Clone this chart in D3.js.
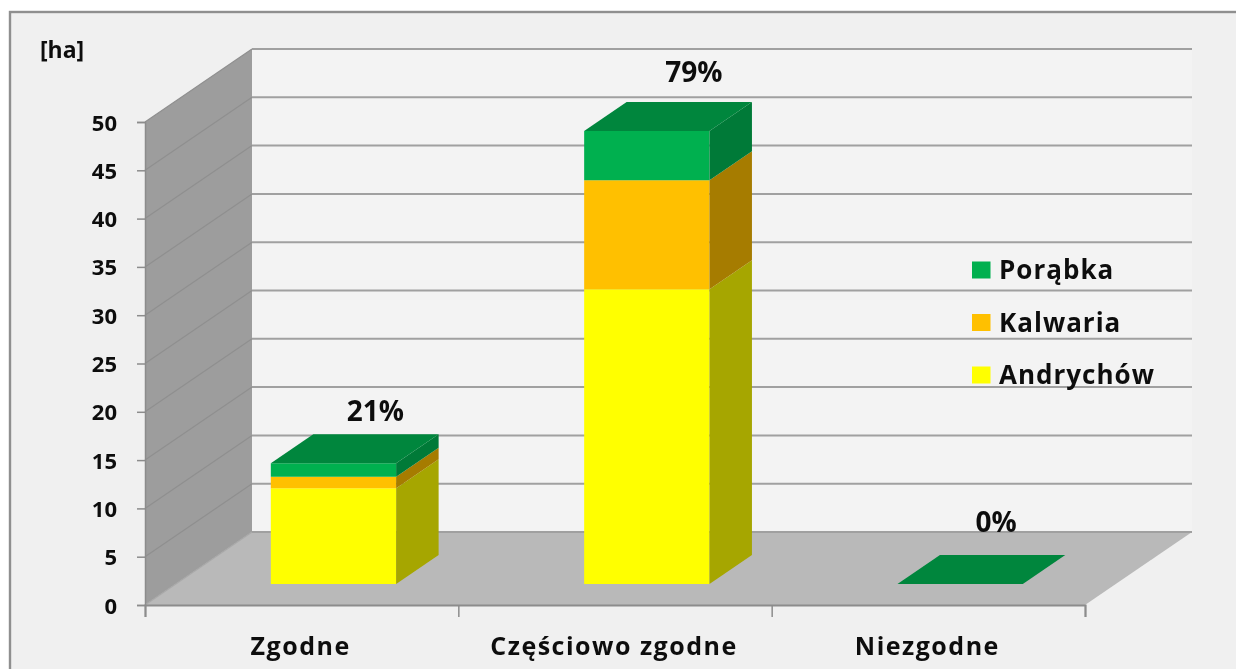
<!DOCTYPE html>
<html>
<head>
<meta charset="utf-8">
<script src="https://cdn.jsdelivr.net/npm/d3@7"></script>
<style>
    html, body { margin: 0; padding: 0; background: #fff; }
    text { font-family: "Open Sans", "DejaVu Sans", sans-serif; font-weight: 700; fill: #111; }
</style>
</head>
<body>
<div id="chart"></div>
<script>
var categories = ["Zgodne", "Częściowo zgodne", "Niezgodne"];
var seriesNames = ["Andrychów", "Kalwaria", "Porąbka"];
var andrychow = [9.9, 30.5, 0];
var kalwaria = [1.2, 11.3, 0];
var porabka = [1.4, 5.1, 0];
var percentLabels = ["21%", "79%", "0%"];
var yTicks = [0, 5, 10, 15, 20, 25, 30, 35, 40, 45, 50];

(function () {
    var width = 1236,
        height = 669;

    var depthX = 107,
        depthY = 73,
        barFront = 0.288,
        barBack = 0.685,
        left = 145,
        right = 1085;

    var frontFill = { "Andrychów": "#ffff00", "Kalwaria": "#ffc000", "Porąbka": "#00b050" };
    var sideFill = { "Andrychów": "#a6a600", "Kalwaria": "#a67c00", "Porąbka": "#007a37" };
    var topFill = "#00863d";

    var svg = d3.select("#chart")
        .append("svg")
        .attr("width", width)
        .attr("height", height)
        .style("display", "block");

    var defs = svg.append("defs");
    defs.append("filter").attr("id", "soft")
        .attr("filterUnits", "userSpaceOnUse")
        .attr("x", 0).attr("y", 0).attr("width", width).attr("height", height)
        .append("feGaussianBlur").attr("stdDeviation", 0.6);

    var yScale = d3.scaleLinear().domain([0, 50]).range([605, 122]);
    var xBand = d3.scaleBand().domain(categories).range([left + 1, right + 1])
        .paddingInner(0.6).paddingOuter(0.3);

    // point in the floor plan: x in pixels at the front, value, depth 0..1
    function proj(x, v, depth) {
        return [x + depth * depthX, yScale(v) - depth * depthY];
    }
    function poly(points) {
        return "M" + points.join("L") + "Z";
    }

    // panel, runs off the page on the right and at the bottom
    svg.append("rect")
        .attr("x", 10).attr("y", 12)
        .attr("width", 1240).attr("height", 680)
        .attr("fill", "#f0f0f0")
        .attr("stroke", "#8f8f8f")
        .attr("stroke-width", 2.4);

    var plot = svg.append("g").attr("filter", "url(#soft)");

    // back wall
    plot.append("path")
        .attr("d", poly([proj(left, 0, 1), proj(right, 0, 1), proj(right, 50, 1), proj(left, 50, 1)]))
        .attr("fill", "#f3f3f3");

    // left wall
    plot.append("path")
        .attr("d", poly([proj(left, 0, 0), proj(left, 50, 0), proj(left, 50, 1), proj(left, 0, 1)]))
        .attr("fill", "#9d9d9d");

    // floor
    plot.append("path")
        .attr("d", poly([proj(left, 0, 0), proj(right, 0, 0), proj(right, 0, 1), proj(left, 0, 1)]))
        .attr("fill", "#b9b9b9");

    // grid lines on both walls
    plot.selectAll(".wall-line")
        .data(yTicks)
        .enter().append("path")
        .attr("class", "wall-line")
        .attr("fill", "none")
        .attr("stroke", function (d) { return d === 0 ? "#a8a8a8" : "#8f8f8f"; })
        .attr("stroke-width", 1.2)
        .attr("d", function (d) {
            return "M" + proj(left, d, 0) + "L" + proj(left, d, 1);
        });
    plot.selectAll(".back-line")
        .data(yTicks)
        .enter().append("line")
        .attr("class", "back-line")
        .attr("x1", proj(left, 0, 1)[0])
        .attr("x2", proj(right, 0, 1)[0])
        .attr("y1", function (d) { return proj(left, d, 1)[1]; })
        .attr("y2", function (d) { return proj(left, d, 1)[1]; })
        .attr("stroke", "#a0a0a0")
        .attr("stroke-width", 2);

    // bars
    var rows = categories.map(function (c, i) {
        return { cat: c, "Andrychów": andrychow[i], "Kalwaria": kalwaria[i], "Porąbka": porabka[i] };
    });
    var stacked = d3.stack().keys(seriesNames)(rows);

    stacked.forEach(function (layer) {
        var g = plot.append("g");
        var drawn = layer.filter(function (d) { return d[1] > d[0]; });

        g.selectAll(".front")
            .data(drawn)
            .enter().append("path")
            .attr("d", function (d) {
                var x0 = xBand(d.data.cat), x1 = x0 + xBand.bandwidth();
                return poly([proj(x0, d[0], barFront), proj(x1, d[0], barFront),
                    proj(x1, d[1], barFront), proj(x0, d[1], barFront)]);
            })
            .attr("fill", frontFill[layer.key]);

        g.selectAll(".side")
            .data(drawn)
            .enter().append("path")
            .attr("d", function (d) {
                var x1 = xBand(d.data.cat) + xBand.bandwidth();
                return poly([proj(x1, d[0], barFront), proj(x1, d[0], barBack),
                    proj(x1, d[1], barBack), proj(x1, d[1], barFront)]);
            })
            .attr("fill", sideFill[layer.key]);
    });

    // bar tops, the empty category only has this one
    var totals = rows.map(function (r) {
        return { cat: r.cat, total: d3.sum(seriesNames, function (k) { return r[k]; }) };
    });
    plot.selectAll(".bar-top")
        .data(totals)
        .enter().append("path")
        .attr("class", "bar-top")
        .attr("fill", topFill)
        .attr("d", function (d) {
            var x0 = xBand(d.cat), x1 = x0 + xBand.bandwidth();
            return poly([proj(x0, d.total, barFront), proj(x1, d.total, barFront),
                proj(x1, d.total, barBack), proj(x0, d.total, barBack)]);
        });

    // axes
    var axisColor = "#8c8c8c";
    var yAxis = plot.append("g")
        .attr("transform", "translate(" + left + ",0)")
        .call(d3.axisLeft(yScale).tickValues(yTicks).tickSize(8).tickPadding(20));
    yAxis.select(".domain").attr("stroke", axisColor).attr("stroke-width", 1.5);
    yAxis.selectAll(".tick line").attr("stroke", axisColor).attr("stroke-width", 1.5);
    yAxis.selectAll(".tick text")
        .attr("font-size", 22)
        .attr("y", 1)
        .attr("fill", "#111")
        .style("font-family", '"Open Sans", sans-serif');

    var xEdges = d3.scaleLinear().domain([0, 3]).range([left, right]);
    var xAxis = plot.append("g")
        .attr("transform", "translate(0,605)")
        .call(d3.axisBottom(xEdges).tickValues([0, 1, 2, 3]).tickSize(12).tickFormat(""));
    xAxis.select(".domain").attr("stroke", axisColor).attr("stroke-width", 2);
    xAxis.selectAll(".tick line").attr("stroke", axisColor).attr("stroke-width", 1.5);

    var xLabels = plot.append("g")
        .attr("transform", "translate(-2,605)")
        .call(d3.axisBottom(xBand).tickSize(0).tickPadding(32));
    xLabels.select(".domain").remove();
    xLabels.selectAll(".tick text")
        .attr("font-size", 25)
        .attr("letter-spacing", 1.5)
        .attr("fill", "#111")
        .style("font-family", '"Open Sans", sans-serif');

    // percent labels, hand placed above each bar in the original
    var labelLift = [42, 49, 52];
    var labelShift = [0, 5, -6];
    plot.selectAll(".pct")
        .data(totals)
        .enter().append("text")
        .attr("class", "pct")
        .attr("text-anchor", "middle")
        .attr("font-size", 28)
        .attr("x", function (d, i) {
            return xBand(d.cat) + xBand.bandwidth() / 2 + barFront * depthX + 42 + labelShift[i];
        })
        .attr("y", function (d, i) { return proj(0, d.total, barFront)[1] - labelLift[i]; })
        .text(function (d, i) { return percentLabels[i]; });

    // unit
    plot.append("text")
        .attr("x", 40).attr("y", 58)
        .attr("font-size", 23)
        .text("[ha]");

    // legend
    var legendY = d3.scalePoint().domain(seriesNames.slice().reverse()).range([270, 375]);
    var legend = plot.selectAll(".legend")
        .data(seriesNames)
        .enter().append("g")
        .attr("class", "legend")
        .attr("transform", function (d) { return "translate(972," + legendY(d) + ")"; });
    legend.append("rect")
        .attr("y", -8.5).attr("width", 18.5).attr("height", 17)
        .attr("fill", function (d) { return frontFill[d]; });
    legend.append("text")
        .attr("x", 27).attr("y", 9)
        .attr("font-size", 26)
        .attr("letter-spacing", 1)
        .text(function (d) { return d; });
})();
</script>
</body>
</html>
